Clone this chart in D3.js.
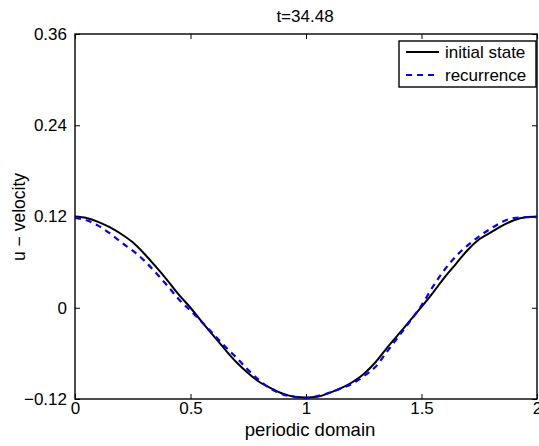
<!DOCTYPE html>
<html>
<head>
<meta charset="utf-8">
<script src="https://cdn.jsdelivr.net/npm/d3@7"></script>
<style>
  body { margin: 0; background: #fff; }
  svg text { font-family: "Liberation Sans", Arial, Helvetica, sans-serif; fill: #000; }
</style>
</head>
<body>
<svg id="chart" width="539" height="446"></svg>
<script>
// ---- data ----
const xValues = [0, 0.05, 0.1, 0.15, 0.2, 0.25, 0.3, 0.35, 0.4, 0.45, 0.5, 0.55, 0.6, 0.65, 0.7, 0.75, 0.8, 0.85, 0.9, 0.95,
                 1.0, 1.05, 1.1, 1.15, 1.2, 1.25, 1.3, 1.35, 1.4, 1.45, 1.5, 1.55, 1.6, 1.65, 1.7, 1.75, 1.8, 1.85, 1.9, 1.95, 2.0];
const initialState = [0.120, 0.118, 0.113, 0.106, 0.097, 0.086, 0.071, 0.054, 0.036, 0.017, 0.000, -0.019, -0.037, -0.055, -0.072, -0.086, -0.098, -0.106, -0.113, -0.117,
                      -0.118, -0.117, -0.112, -0.106, -0.098, -0.087, -0.072, -0.053, -0.035, -0.017, 0.001, 0.020, 0.040, 0.058, 0.076, 0.090, 0.099, 0.108, 0.115, 0.119, 0.120];
const recurrence = [0.118, 0.115, 0.108, 0.098, 0.086, 0.075, 0.062, 0.046, 0.029, 0.011, -0.004, -0.019, -0.035, -0.051, -0.066, -0.082, -0.096, -0.107, -0.114, -0.117,
                    -0.119, -0.116, -0.112, -0.106, -0.100, -0.090, -0.078, -0.058, -0.038, -0.018, 0.003, 0.028, 0.050, 0.068, 0.082, 0.094, 0.104, 0.113, 0.118, 0.119, 0.119];
const xTicks = [0, 0.5, 1, 1.5, 2];
const yTicks = [-0.12, 0, 0.12, 0.24, 0.36];
const seriesNames = ["initial state", "recurrence"];
const titleText = "t=34.48";
const xLabel = "periodic domain";
const yLabel = "u \u2212 velocity";

// ---- layout ----
const pLeft = 75, pRight = 537, pTop = 34, pBottom = 399;
const svg = d3.select("#chart");
const x = d3.scaleLinear().domain([0, 2]).range([pLeft, pRight]);
const y = d3.scaleLinear().domain([-0.12, 0.36]).range([pBottom, pTop]);
const fs = 17;

const fmtY = d => d === 0 ? "0" : (d < 0 ? "\u2212" + Math.abs(d).toFixed(2) : d.toFixed(2));
const fmtX = d => String(d);

const xAxis = svg.append("g").attr("transform", `translate(0,${pBottom})`)
  .call(d3.axisBottom(x).tickValues(xTicks).tickFormat(fmtX).tickSizeInner(-5).tickSizeOuter(0).tickPadding(3));
const xAxisTop = svg.append("g").attr("transform", `translate(0,${pTop})`)
  .call(d3.axisTop(x).tickValues(xTicks).tickFormat("").tickSizeInner(-5).tickSizeOuter(0));
const yAxis = svg.append("g").attr("transform", `translate(${pLeft},0)`)
  .call(d3.axisLeft(y).tickValues(yTicks).tickFormat(fmtY).tickSizeInner(-5).tickSizeOuter(0).tickPadding(8));
const yAxisRight = svg.append("g").attr("transform", `translate(${pRight},0)`)
  .call(d3.axisRight(y).tickValues(yTicks).tickFormat("").tickSizeInner(-5).tickSizeOuter(0));

[xAxis, xAxisTop, yAxis, yAxisRight].forEach(g => {
  g.select(".domain").remove();
  g.selectAll("line").attr("stroke", "#000").attr("stroke-width", 1);
  g.selectAll("text").style("font-size", fs + "px").style("font-family", '"Liberation Sans", Arial, sans-serif').attr("fill", "#000");
});
xAxis.selectAll("text").attr("dy", "0.71em");

svg.append("rect").attr("x", pLeft).attr("y", pTop).attr("width", pRight - pLeft).attr("height", pBottom - pTop)
  .attr("fill", "none").attr("stroke", "#000").attr("stroke-width", 1.4);

const pts1 = xValues.map((v, i) => [v, initialState[i]]);
const pts2 = xValues.map((v, i) => [v, recurrence[i]]);
const line = d3.line().x(d => x(d[0])).y(d => y(d[1])).curve(d3.curveMonotoneX);

svg.append("path").attr("d", line(pts1)).attr("fill", "none").attr("stroke", "#000").attr("stroke-width", 2);
svg.append("path").attr("d", line(pts2)).attr("fill", "none").attr("stroke", "#0000ff").attr("stroke-width", 2.2)
  .attr("stroke-dasharray", "6,5");

svg.append("text").attr("x", 305).attr("y", 22).attr("text-anchor", "middle")
  .style("font-size", fs + "px").text(titleText);
svg.append("text").attr("x", 310).attr("y", 436).attr("text-anchor", "middle")
  .style("font-size", "18.5px").text(xLabel);
svg.append("text").attr("transform", `translate(25,${217}) rotate(-90)`).attr("text-anchor", "middle")
  .style("font-size", "17.5px").text(yLabel);

const lg = svg.append("g");
lg.append("rect").attr("x", 399).attr("y", 41).attr("width", 137).attr("height", 46)
  .attr("fill", "#fff").attr("stroke", "#000").attr("stroke-width", 1.4);
const legendRows = [
  { name: seriesNames[0], color: "#000", dash: null, yy: 52 },
  { name: seriesNames[1], color: "#0000ff", dash: "6,5", yy: 75 }
];
legendRows.forEach(r => {
  lg.append("line").attr("x1", 406).attr("x2", 439).attr("y1", r.yy).attr("y2", r.yy)
    .attr("stroke", r.color).attr("stroke-width", 2).attr("stroke-dasharray", r.dash);
  lg.append("text").attr("x", 445).attr("y", r.yy + 6).style("font-size", fs + "px").text(r.name);
});
</script>
</body>
</html>
